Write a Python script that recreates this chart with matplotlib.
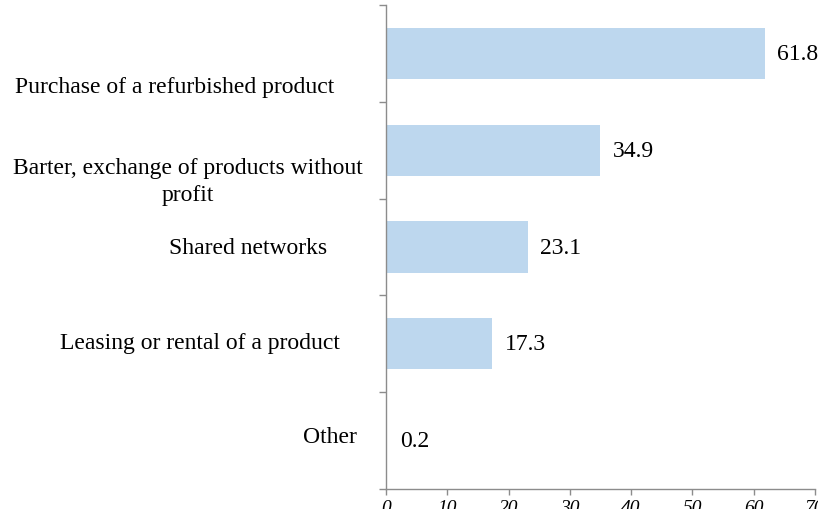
import matplotlib
matplotlib.use("Agg")
import matplotlib.pyplot as plt
import numpy as np

categories = ["Purchase of a refurbished product",
              "Barter, exchange of products without\nprofit",
              "Shared networks",
              "Leasing or rental of a product",
              "Other"]
values = [61.8, 34.9, 23.1, 17.3, 0.2]
xticks = [0, 10, 20, 30, 40, 50, 60, 70]

W, H = 818, 510
fig = plt.figure(figsize=(W / 100, H / 100), dpi=100)
ax = fig.add_axes([386 / W, 1 - 490 / H, (815 - 386) / W, (490 - 6) / H])

plt.rcParams['font.family'] = ['Liberation Serif', 'DejaVu Serif']
serif = 'Liberation Serif'
grey = '#8c8c8c'

n = len(categories)
ypos = np.arange(n)
ax.barh(ypos, values, height=0.53, color='#bdd7ee', zorder=2)
ax.set_ylim(n - 0.5, -0.5)
ax.set_xlim(0, 70)

for y, v in zip(ypos, values):
    ax.annotate(f"{v}", xy=(v, y), xytext=(9, 0), textcoords='offset points',
                ha='left', va='center', fontsize=17, family=serif)

# category labels (positions as in original text boxes)
label_x = [175, 188, 248, 200, 330]
label_y = [88, 182, 249, 344, 438]
for lab, lx, ly in zip(categories, label_x, label_y):
    fig.text(lx / W, 1 - ly / H, lab, ha='center', va='center', fontsize=17,
             family=serif, linespacing=1.35)

ax.set_yticks(np.arange(-0.5, n, 1.0))
ax.set_yticklabels([])
ax.tick_params(axis='y', direction='out', length=5, color=grey, width=1)
ax.set_xticks(xticks)
ax.set_xticklabels([str(t) for t in xticks], fontstyle='italic', fontsize=14, family=serif)
ax.tick_params(axis='x', direction='out', length=4, color=grey, width=1, pad=3)

for s in ['top', 'right']:
    ax.spines[s].set_visible(False)
for s in ['left', 'bottom']:
    ax.spines[s].set_color(grey)
    ax.spines[s].set_linewidth(1)

fig.savefig("out.png", dpi=100)
